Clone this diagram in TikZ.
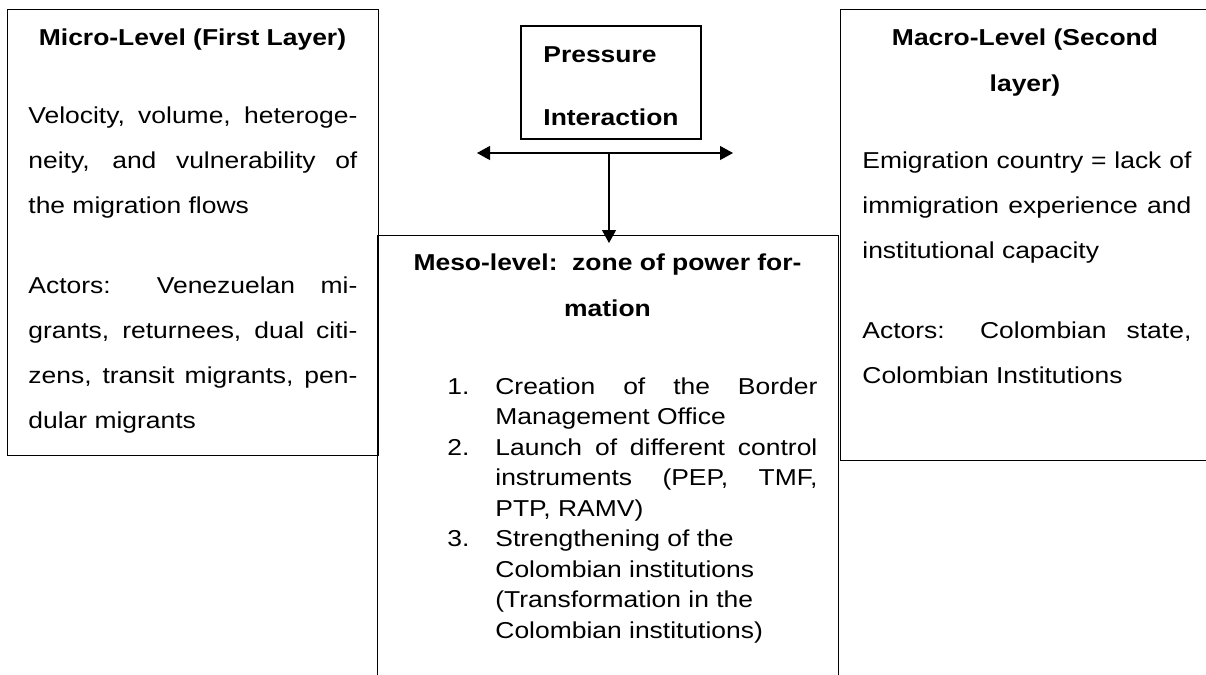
\documentclass[tikz,border=0pt]{standalone}
\usepackage{fontspec}
\setmainfont{Liberation Sans}[FakeStretch=1.15]
\usetikzlibrary{arrows.meta}
% numbered entry with a hanging indent
\newcommand\lstitem[1]{\noindent\hangindent=24pt\hangafter=1\makebox[24pt][l]{#1}}
\begin{document}
\begin{tikzpicture}[x=0.5pt,y=-0.5pt,
  panel/.style={draw=black, line width=0.6pt, inner sep=0pt, anchor=north west},
  txt/.style={inner sep=0pt, execute at begin node={\hyphenpenalty=10000\tolerance=10000\hbadness=10000}},
  head/.style={txt, font=\fontsize{11.5}{23}\selectfont\bfseries, align=center, anchor=base},
  body/.style={txt, font=\fontsize{11.5}{22.5}\selectfont, anchor=base west, text width=164.5pt, align=justify},
  listing/.style={txt, font=\fontsize{11.5}{15.25}\selectfont, anchor=base west, text width=185pt, align=justify},
  label/.style={txt, font=\fontsize{11.5}{14}\selectfont\bfseries, anchor=base west},
  link/.style={line width=0.6pt, -{Triangle[length=6.5pt,width=7pt]}},
]
\useasboundingbox (0,0) rectangle (1206,675);
\fill[white] (0,0) rectangle (1206,675);
\clip (0,0) rectangle (1206,675);

% three level panels
\node[panel, minimum width=185.5pt, minimum height=223pt] (micro) at (7,9) {};
\node[panel, minimum width=230.5pt, minimum height=240pt] (meso) at (377,235) {};
\node[panel, minimum width=190pt, minimum height=225.5pt] (macro) at (840,9) {};

% pressure box
\node[draw=black, line width=0.6pt, minimum width=90pt, minimum height=56.5pt] (press) at (611,82.5) {};
\node[label] (pressA) at (543,62) {Pressure};
\node[label] (pressB) at (543,125) {Interaction};

% micro level
\node[head] (microT) at (192.5,45) {Micro-Level (First Layer)};
\node[body] (microA) at (28,123) {Velocity, volume, heteroge-\linebreak neity, and vulnerability of\linebreak the migration flows};
\node[body] (microB) at (28,293) {Actors: Venezuelan mi-\linebreak grants, returnees, dual citi-\linebreak zens, transit migrants, pen-\linebreak dular migrants};

% macro level (two-line titles sit on the baseline of their last line)
\node[head] (macroT) at (1025,91) {Macro-Level (Second\\layer)};
\node[body] (macroA) at (862,168) {Emigration country = lack of\linebreak immigration experience and\linebreak institutional capacity};
\node[body] (macroB) at (862,338) {Actors: Colombian state,\linebreak Colombian Institutions};

% meso level
\node[head] (mesoT) at (607.5,316) {Meso-level:\ \ zone of power for-\\mation};
\node[listing] (mesoL) at (447,394) {\lstitem{1.}Creation of the Border\linebreak Management Office\par
\lstitem{2.}Launch of different control\linebreak instruments (PEP, TMF,\linebreak PTP, RAMV)\par
\lstitem{3.}Strengthening of the\newline Colombian institutions\newline (Transformation in the\newline Colombian institutions)\par};

% interaction arrows
\coordinate (hl) at (477,153);
\coordinate (hr) at (733,153);
\coordinate (hm) at (609,153);
\draw[link, {Triangle[length=6.5pt,width=7pt]}-{Triangle[length=6.5pt,width=7pt]}] (hl) -- (hr);
\draw[link] (hm) -- ([yshift=-4pt]hm |- meso.north);
\end{tikzpicture}
\end{document}
